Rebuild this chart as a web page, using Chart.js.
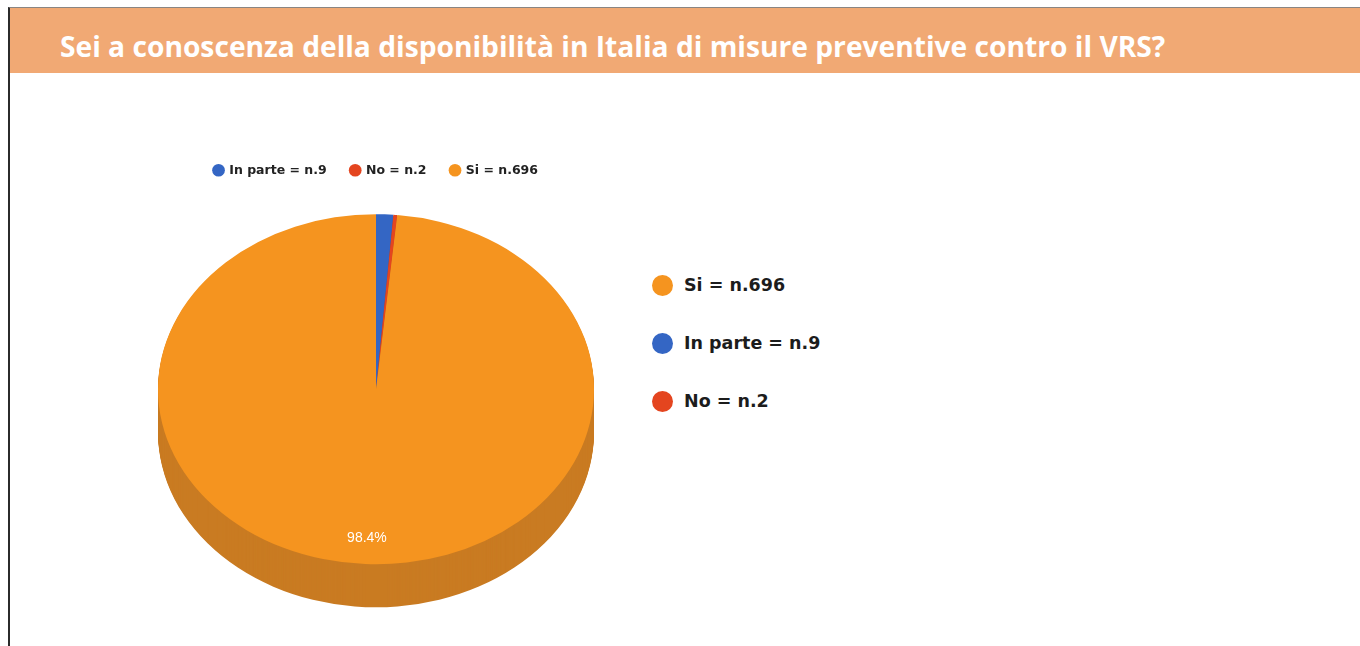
<!DOCTYPE html>
<html lang="it">
<head>
<meta charset="utf-8">
<title>Misure preventive VRS</title>
<script src="https://cdn.jsdelivr.net/npm/chart.js@4.4.1/dist/chart.umd.min.js"></script>
<style>
    html, body { margin: 0; padding: 0; background: #fff; }
    body { width: 1360px; height: 646px; position: relative; overflow: hidden; }
    .frame {
        position: absolute; left: 8px; top: 7px; width: 1352px; height: 639px;
        border-left: 2px solid #2b2b2b; border-top: 1px solid #8a8582;
    }
    .header { position: absolute; left: 0; top: 0; right: 0; height: 65px; background: #F1A974; }
    .header h1 {
        margin: 0; position: absolute; left: 50px; top: 6px;
        font: bold 28.2px "Open Sans", sans-serif; line-height: 65px;
        color: #fff; white-space: nowrap;
    }
    .chart-box { position: absolute; left: 116px; top: 140px; width: 520px; height: 490px; }
    #side-legend { position: absolute; left: 652px; top: 256px; margin: 0; padding: 0; list-style: none; }
    #side-legend li {
        display: flex; align-items: center; height: 58px;
        font: bold 17.5px "DejaVu Sans", sans-serif; color: #1c1c1c;
    }
    #side-legend .dot { width: 21px; height: 21px; border-radius: 50%; margin-right: 11px; }
</style>
</head>
<body>
<div class="frame">
    <div class="header"><h1>Sei a conoscenza della disponibilità in Italia di misure preventive contro il VRS?</h1></div>
</div>
<div class="chart-box"><canvas id="pie"></canvas></div>
<ul id="side-legend"></ul>

<script>
// Dati
const categorie = ['In parte', 'No', 'Si'];
const risposte = [9, 2, 696];

// Stile
const colori = ['#3466C4', '#E4451F', '#F5941F'];
const coloriLato = ['#27509C', '#B23516', '#C97B22'];
const SCHIACCIA = 0.803;   // vertical squash of the pie (3D look)
const SPESSORE = 43;       // thickness of the pie side, px

const etichette = categorie.map((c, i) => c + ' = n.' + risposte[i]);
const totale = risposte.reduce((s, v) => s + v, 0);

// Fake 3D: squash the pie and paint a darker side under it
const pie3d = {
    id: 'pie3d',
    beforeDatasetsDraw(chart) {
        const ctx = chart.ctx;
        const arcs = chart.getDatasetMeta(0).data;
        const cx = arcs[0].x, cy = arcs[0].y;

        for (let d = SPESSORE; d > 0; d--) {
            ctx.save();
            ctx.translate(cx, cy + d);
            ctx.scale(1, SCHIACCIA);
            arcs.forEach((a, i) => {
                ctx.beginPath();
                ctx.moveTo(0, 0);
                ctx.arc(0, 0, a.outerRadius, a.startAngle, a.endAngle);
                ctx.closePath();
                ctx.fillStyle = coloriLato[i];
                ctx.fill();
            });
            ctx.restore();
        }

        ctx.save();
        ctx.translate(cx, cy);
        ctx.scale(1, SCHIACCIA);
        ctx.translate(-cx, -cy);
    },
    afterDatasetsDraw(chart) {
        const ctx = chart.ctx;
        ctx.restore();

        // percentage labels on big slices
        chart.getDatasetMeta(0).data.forEach((a, i) => {
            const quota = risposte[i] / totale;
            if (quota < 0.05) return;
            const mid = (a.startAngle + a.endAngle) / 2;
            const r = a.outerRadius * 0.85;
            ctx.save();
            ctx.fillStyle = '#fff';
            ctx.font = '14px "Liberation Sans", Arial, sans-serif';
            ctx.textAlign = 'center';
            ctx.textBaseline = 'middle';
            ctx.fillText((quota * 100).toFixed(1) + '%', a.x + Math.cos(mid) * r, a.y + Math.sin(mid) * r * SCHIACCIA);
            ctx.restore();
        });
    }
};

new Chart(document.getElementById('pie').getContext('2d'), {
    type: 'pie',
    data: {
        labels: etichette,
        datasets: [{
            data: risposte,
            backgroundColor: colori,
            borderWidth: 0,
            radius: 218,
            clip: false
        }]
    },
    options: {
        responsive: true,
        maintainAspectRatio: false,
        animation: false,
        layout: { padding: { bottom: 38 } },
        plugins: {
            legend: {
                position: 'top',
                labels: {
                    usePointStyle: true,
                    pointStyle: 'circle',
                    boxWidth: 9,
                    boxHeight: 9,
                    padding: 24,
                    color: '#222',
                    font: { family: 'DejaVu Sans', weight: 'bold', size: 12.5 }
                }
            },
            tooltip: { enabled: false }
        }
    },
    plugins: [pie3d]
});

// Side legend, largest first
const ordine = categorie.map((c, i) => i).sort((a, b) => risposte[b] - risposte[a]);
const lista = document.getElementById('side-legend');
ordine.forEach(i => {
    const li = document.createElement('li');
    const dot = document.createElement('span');
    dot.className = 'dot';
    dot.style.background = colori[i];
    li.appendChild(dot);
    li.appendChild(document.createTextNode(etichette[i]));
    lista.appendChild(li);
});
</script>
</body>
</html>
